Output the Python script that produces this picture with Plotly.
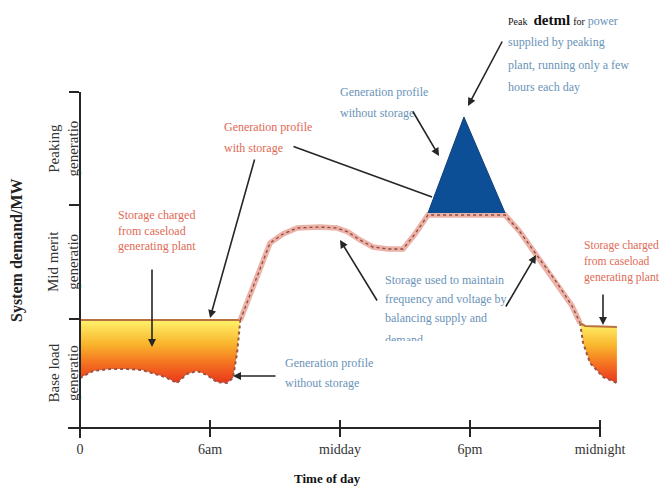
import plotly.graph_objects as go

# ---------------- data ----------------
tick_hours = [0, 6, 12, 18, 24]
tick_labels = ["0", "6am", "midday", "6pm", "midnight"]

band_edges = [0, 10.9, 22.3, 33.6]
band_names = ["Base load<br>generatio", "Mid merit<br>generatio", "Peaking<br>generatio"]

# generation profile with storage (hour of day, demand)
ws_hours = [0, 7.4, 8.08, 8.77, 9.37, 10.02, 11.08, 11.86, 12.37, 12.92, 13.52, 14.22,
            14.91, 15.46, 16.06, 19.62, 20.31, 20.91, 22.02, 22.71, 23.08, 23.31, 24.78]
ws_demand = [10.8, 10.8, 14.7, 18.5, 19.4, 20.0, 20.1, 20.0, 19.6, 18.8, 18.1, 17.9,
             17.9, 19.4, 21.3, 21.3, 19.6, 17.8, 14.5, 12.2, 10.5, 10.2, 10.1]

# generation profile without storage (night, morning)
ns_am_hours = [0, 0.6, 1.38, 2.17, 2.86, 3.37, 3.92, 4.48, 4.94, 5.4, 5.86, 6.32,
               6.78, 7.06, 7.25, 7.4]
ns_am_demand = [5.0, 5.7, 5.9, 5.9, 5.8, 5.5, 5.1, 4.5, 5.4, 5.7, 5.3, 4.6,
                4.5, 5.0, 7.5, 10.8]
# generation profile without storage (late evening)
ns_pm_hours = [23.08, 23.22, 23.54, 24.14, 24.78]
ns_pm_demand = [10.5, 8.5, 6.5, 5.1, 4.5]

# peak without storage
peak_hours = [16.06, 17.72, 19.62]
peak_demand = [21.5, 31.1, 21.5]

# ---------------- helpers ----------------
SERIF = "Liberation Serif, Times New Roman, serif"
RED = "#e06a55"
BLUE = "#6a93b8"
INK = "#262626"


def X(px):
    return (px - 80) / 21.667


def Y(py):
    return (428 - py) / 10.0


def PX(px):
    return px / 660


def PY(py):
    return (488 - py) / 488


grad = [[0, "#e9361c"], [0.3, "#f46f20"], [0.62, "#f9b52c"], [1, "#fff36b"]]

fig = go.Figure()

# left storage fill
left_x = [ws_hours[0]] + ns_am_hours[::-1]
left_y = [ws_demand[0]] + ns_am_demand[::-1]
fig.add_trace(go.Scatter(x=left_x, y=left_y, mode="lines", fill="toself",
                         fillgradient=dict(type="vertical", colorscale=grad),
                         line=dict(width=0), hoverinfo="skip"))

# right storage fill
top_r = [(h, d) for h, d in zip(ws_hours, ws_demand) if h >= ns_pm_hours[0]]
right_x = [p[0] for p in top_r] + ns_pm_hours[::-1]
right_y = [p[1] for p in top_r] + ns_pm_demand[::-1]
fig.add_trace(go.Scatter(x=right_x, y=right_y, mode="lines", fill="toself",
                         fillgradient=dict(type="vertical", colorscale=grad),
                         line=dict(width=0), hoverinfo="skip"))

# without-storage dotted profiles
for hx, dy in [(ns_am_hours, ns_am_demand), (ns_pm_hours, ns_pm_demand)]:
    fig.add_trace(go.Scatter(x=hx, y=dy, mode="lines",
                             line=dict(color="#9a5446", width=2, dash="dot"),
                             hoverinfo="skip"))

# with-storage profile: flat tops (brown) and band (pink with dotted core)
i_end = ws_hours.index(ns_pm_hours[0])
fig.add_trace(go.Scatter(x=ws_hours[:2], y=ws_demand[:2], mode="lines",
                         line=dict(color="#b9713f", width=2.2), hoverinfo="skip"))
fig.add_trace(go.Scatter(x=ws_hours[i_end:], y=ws_demand[i_end:], mode="lines",
                         line=dict(color="#b9713f", width=2.2), hoverinfo="skip"))
fig.add_trace(go.Scatter(x=ws_hours[1:i_end + 1], y=ws_demand[1:i_end + 1], mode="lines",
                         line=dict(color="#ecb1a7", width=5.5), hoverinfo="skip"))
fig.add_trace(go.Scatter(x=ws_hours[1:i_end + 1], y=ws_demand[1:i_end + 1], mode="lines",
                         line=dict(color="#8d4b3f", width=1.3, dash="dot"), hoverinfo="skip"))

# peak triangle (overlay axis so crossing ticks can be drawn)
fig.add_trace(go.Scatter(x=peak_hours, y=peak_demand, mode="lines", fill="toself",
                         fillcolor="#0c4f97", line=dict(color="#123f74", width=1),
                         xaxis="x2", hoverinfo="skip"))

annotations = []


def text_lines(lines, px, py0, step, color, size=12, **kw):
    for i, t in enumerate(lines):
        d = dict(text=t, x=PX(px), y=PY(py0 + i * step), xref="paper", yref="paper",
                 xanchor="left", yanchor="middle", showarrow=False,
                 font=dict(family=SERIF, size=size, color=color))
        d.update(kw)
        annotations.append(d)


def arrow(x0, y0, x1, y1, head=2):
    annotations.append(dict(x=X(x1), y=Y(y1), ax=X(x0), ay=Y(y0), xref="x", yref="y",
                            axref="x", ayref="y", text="", showarrow=True,
                            arrowhead=head, arrowsize=1, arrowwidth=1.6,
                            arrowcolor=INK, standoff=0))


# top right note
first = ("<span style='font-size:10px;color:#111'>Peak</span>  "
         "<span style='font-size:15px;font-weight:bold;color:#111'>detml</span> "
         "<span style='font-size:10px;color:#111'>for</span> power")
text_lines([first, "supplied by peaking", "plant, running only a few", "hours each day"],
           506, 20, 22.3, BLUE)
arrow(503, 40, 468, 106)

# generation profile without storage (peak)
text_lines(["Generation profile", "without storage"], 338, 92, 21, BLUE)
arrow(412, 110, 439, 156)

# generation profile with storage
text_lines(["Generation profile", "with storage"], 222, 127, 21, RED)
arrow(292, 146, 432, 197, head=0)
arrow(255, 158, 210, 318)

# left storage charged
text_lines(["Storage charged", "from caseload", "generating plant"], 116, 215, 15.5, RED)
arrow(152, 268, 152, 347)

# storage used to maintain
text_lines(["Storage used to maintain", "frequency and voltage by", "balancing supply and"],
           383, 280, 19, BLUE)
annotations.append(dict(text="demand", x=PX(383), y=PY(331), xref="paper", yref="paper",
                        xanchor="left", yanchor="top", showarrow=False, height=8,
                        valign="top", font=dict(family=SERIF, size=12, color=BLUE)))
arrow(378, 302, 340, 240)
arrow(505, 308, 536, 255)

# generation profile without storage (bottom)
text_lines(["Generation profile", "without storage"], 283, 363, 20, BLUE)
arrow(277, 376, 233, 376)

# right storage charged
text_lines(["Storage charged", "from caseload", "generating plant"], 582, 246, 15.5, RED,
           size=11.6)
arrow(603, 293, 603, 325)

# axis labels
annotations.append(dict(text="<b>System demand/MW</b>", x=PX(17), y=PY(250), xref="paper",
                        yref="paper", textangle=-90, showarrow=False, xanchor="center",
                        yanchor="middle", font=dict(family=SERIF, size=16, color="#222")))
for k, name in enumerate(band_names):
    annotations.append(dict(text=name, x=PX(63), y=(band_edges[k] + band_edges[k + 1]) / 2,
                            xref="paper", yref="y", textangle=-90, showarrow=False,
                            xanchor="center", yanchor="middle",
                            font=dict(family=SERIF, size=15, color="#333")))
annotations.append(dict(text="<b>Time of day</b>", x=PX(327), y=PY(478),
                        xref="paper", yref="paper", showarrow=False, xanchor="center",
                        yanchor="middle", font=dict(family=SERIF, size=13, color="#111")))

tick_common = dict(tickvals=tick_hours, tickwidth=2, tickcolor=INK, showgrid=False,
                   zeroline=False, showline=False, anchor="free", position=60 / 488)

fig.update_layout(
    width=660, height=488, margin=dict(l=0, r=0, t=0, b=0, autoexpand=False),
    paper_bgcolor="white", plot_bgcolor="rgba(0,0,0,0)", showlegend=False,
    xaxis=dict(domain=[66 / 660, 640 / 660], range=[X(66), X(640)], ticktext=tick_labels,
               ticks="outside", ticklen=8, tickfont=dict(family=SERIF, size=14, color="#333"),
               **tick_common),
    xaxis2=dict(overlaying="x", matches="x", ticks="inside", ticklen=8,
                showticklabels=False, **tick_common),
    yaxis=dict(domain=[50 / 488, 396 / 488], range=[Y(438), Y(92)], anchor="free",
               position=80 / 660, showline=True, linewidth=2, linecolor=INK,
               ticks="outside", ticklen=10, tickwidth=2, tickcolor=INK,
               tickvals=band_edges, showticklabels=False, showgrid=False, zeroline=False),
    shapes=[dict(type="line", xref="x", yref="y", x0=-0.55, x1=tick_hours[-1] + 0.05,
                 y0=0, y1=0, line=dict(color=INK, width=2), layer="below")],
    annotations=annotations,
)

fig.write_html("out.html", config={"displayModeBar": False},
               post_script="document.body.style.margin='0';")
